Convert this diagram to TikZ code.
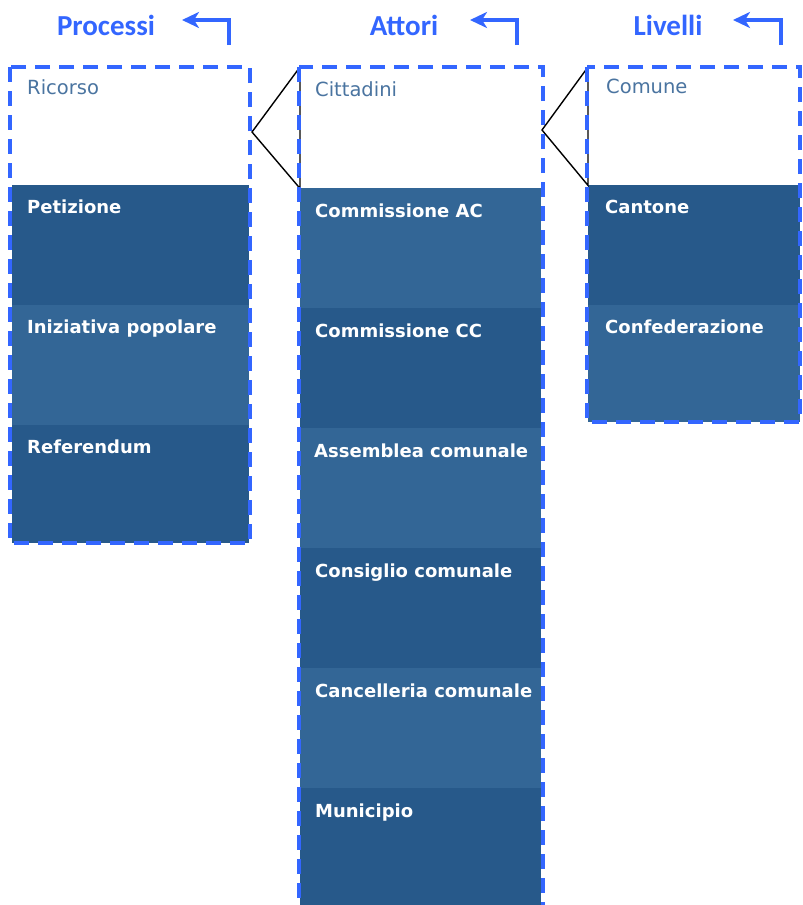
\documentclass[tikz,border=0pt]{standalone}
\usepackage{fontspec}
\setmainfont{DejaVu Sans}
\newfontfamily\titlefont{Carlito}
\usetikzlibrary{arrows.meta,calc}
\definecolor{darkcell}{RGB}{39,89,138}
\definecolor{lightcell}{RGB}{51,102,150}
\definecolor{dashblue}{RGB}{51,102,255}
\definecolor{paletext}{RGB}{74,116,160}
\tikzset{
  cell/.style={draw=none, inner sep=0, anchor=north west},
  lbl/.style={anchor=north west, inner sep=0, font=\fontsize{18}{20}\selectfont\bfseries, text=white},
  plbl/.style={anchor=north west, inner sep=0, font=\fontsize{19.5}{21}\selectfont, text=paletext},
  ttl/.style={font=\titlefont\fontsize{29}{32}\selectfont\bfseries, text=dashblue, inner sep=0},
  dashbox/.style={draw=dashblue, line width=4pt, dash pattern=on 15pt off 9pt},
  backarrow/.style={draw=dashblue, line width=3.8pt, -{Stealth[length=17pt,width=16pt,inset=5pt]}},
  conn/.style={draw=black, line width=1.4pt}
}
\begin{document}
\begin{tikzpicture}[x=1pt,y=-1pt]
\useasboundingbox (0,0) rectangle (803,905);
% ---------- column 1: Processi
\node[cell, minimum width=237, minimum height=118, fill=white] (ricorso) at (12,67) {};
\node[cell, minimum width=237, minimum height=120, fill=darkcell] (petizione) at (12,185) {};
\node[cell, minimum width=237, minimum height=120, fill=lightcell] (iniziativa) at (12,305) {};
\node[cell, minimum width=237, minimum height=118, fill=darkcell] (referendum) at (12,425) {};
\node[plbl] at ($(ricorso.north west)+(15,12)$) {Ricorso};
\node[lbl] at ($(petizione.north west)+(15,15)$) {Petizione};
\node[lbl] at ($(iniziativa.north west)+(15,15)$) {Iniziativa popolare};
\node[lbl] at ($(referendum.north west)+(15,15)$) {Referendum};
% ---------- column 2: Attori
\node[cell, minimum width=241, minimum height=121, fill=white] (cittadini) at (300,67) {};
\node[cell, minimum width=241, minimum height=120, fill=lightcell] (commac) at (300,188) {};
\node[cell, minimum width=241, minimum height=120, fill=darkcell] (commcc) at (300,308) {};
\node[cell, minimum width=241, minimum height=120, fill=lightcell] (assemblea) at (300,428) {};
\node[cell, minimum width=241, minimum height=120, fill=darkcell] (consiglio) at (300,548) {};
\node[cell, minimum width=241, minimum height=120, fill=lightcell] (cancelleria) at (300,668) {};
\node[cell, minimum width=241, minimum height=117, fill=darkcell] (municipio) at (300,788) {};
\node[plbl] at ($(cittadini.north west)+(15,14)$) {Cittadini};
\node[lbl] at ($(commac.north west)+(15,16)$) {Commissione AC};
\node[lbl] at ($(commcc.north west)+(15,16)$) {Commissione CC};
\node[lbl] at ($(assemblea.north west)+(14,16)$) {Assemblea comunale};
\node[lbl] at ($(consiglio.north west)+(15,16)$) {Consiglio comunale};
\node[lbl] at ($(cancelleria.north west)+(15,16)$) {Cancelleria comunale};
\node[lbl] at ($(municipio.north west)+(15,16)$) {Municipio};
% ---------- column 3: Livelli
\node[cell, minimum width=212, minimum height=118, fill=white] (comune) at (588,67) {};
\node[cell, minimum width=212, minimum height=120, fill=darkcell] (cantone) at (588,185) {};
\node[cell, minimum width=212, minimum height=117, fill=lightcell] (confed) at (588,305) {};
\node[plbl] at ($(comune.north west)+(18,12)$) {Comune};
\node[lbl] at ($(cantone.north west)+(17,15)$) {Cantone};
\node[lbl] at ($(confed.north west)+(17,15)$) {Confederazione};
% ---------- connectors (zoom wedges)
\coordinate (apexA) at (252,132);
\coordinate (apexB) at (542,130);
\draw[conn] (cittadini.north west) -- (apexA) -- (cittadini.south west) -- cycle;
\draw[conn] (comune.north west) -- (apexB) -- (comune.south west) -- cycle;
% ---------- dashed frames
\draw[dashbox] (10,67) rectangle (250,543);
\draw[dashbox] (299,67) rectangle (543,910);
\draw[dashbox] (587,67) rectangle (800,422);
% ---------- titles and back arrows
\node[ttl] (tproc) at (106,25) {Processi};
\node[ttl] (tatt) at (404,25) {Attori};
\node[ttl] (tliv) at (668,25) {Livelli};
\coordinate (a1s) at (229,45); \coordinate (a1e) at (182,20);
\coordinate (a2s) at (517,45); \coordinate (a2e) at (470,20);
\coordinate (a3s) at (781,45); \coordinate (a3e) at (733,20);
\draw[backarrow] (a1s) |- (a1e);
\draw[backarrow] (a2s) |- (a2e);
\draw[backarrow] (a3s) |- (a3e);
\end{tikzpicture}
\end{document}
